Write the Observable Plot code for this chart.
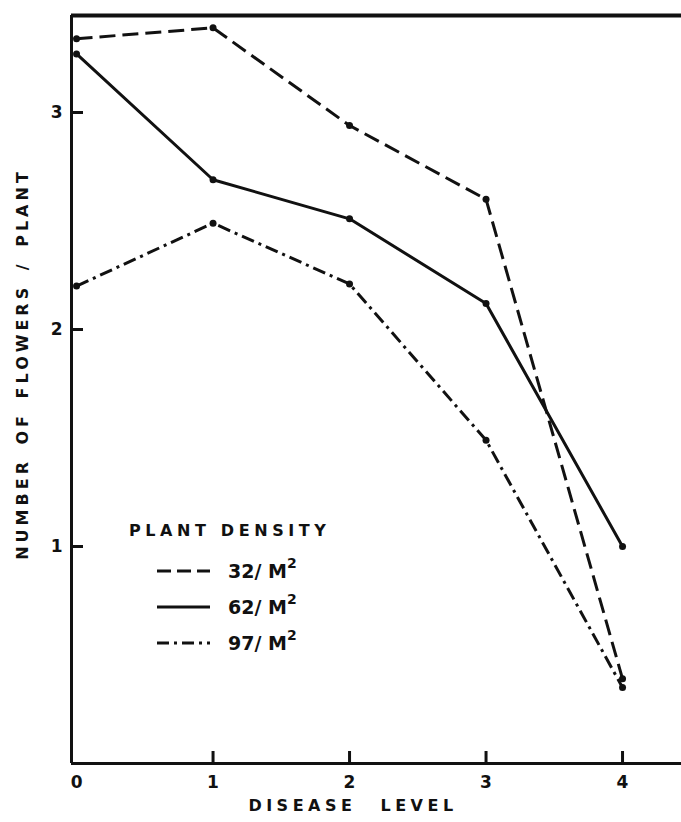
<!DOCTYPE html>
<html>
<head>
<meta charset="utf-8">
<script src="https://cdn.jsdelivr.net/npm/d3@7"></script>
<script src="https://cdn.jsdelivr.net/npm/@observablehq/plot@0.6"></script>
<style>
  html, body { margin: 0; padding: 0; background: #fff; }
  #wrap { position: relative; width: 681px; height: 822px; font-family: "DejaVu Sans", sans-serif; font-weight: bold; color: #111; }
  .ov { position: absolute; white-space: nowrap; }
  #ytitle { left: 22px; top: 364px; transform: translate(-50%, -50%) rotate(-90deg); font-size: 16px; letter-spacing: 4px; word-spacing: 4px; }
  #xtitle { left: 353px; top: 805px; transform: translate(-50%, -50%); font-size: 16px; letter-spacing: 4.5px; word-spacing: 14px; }
  #legend { left: 129px; top: 521px; }
  #legend .lt { font-size: 16px; letter-spacing: 4.6px; height: 32px; }
  #legend .row { display: flex; align-items: center; height: 35px; margin-left: 28px; font-size: 19px; }
  #legend .row.r2 { height: 37px; }
  #legend svg { margin-right: 18px; }
  sup { font-size: 14px; position: relative; top: -3px; }
</style>
</head>
<body>
<div id="wrap"></div>
<script>
// ---- data ----
const diseaseLevels = [0, 1, 2, 3, 4];
const densityLabels = ["32/ M", "62/ M", "97/ M"];
const flowers32 = [3.34, 3.39, 2.94, 2.60, 0.39];
const flowers62 = [3.27, 2.69, 2.51, 2.12, 1.00];
const flowers97 = [2.20, 2.49, 2.21, 1.49, 0.35];
const xTicks = [0, 1, 2, 3, 4];
const yTicks = [1, 2, 3];

const dashes = ["16,7", null, "13,5,3,5"];
const series = [flowers32, flowers62, flowers97];

const rows = [];
series.forEach((vals, si) => {
  diseaseLevels.forEach((lvl, i) => rows.push({ density: densityLabels[si], level: lvl, value: vals[i] }));
});

const W = 681, H = 822, mL = 71, mR = 0, mT = 15, mB = 59;
const tickLen = 12;
const xMin = -0.037, xMax = 4.432, yMax = 3.447;
const font = "DejaVu Sans, sans-serif";

const lineMarks = series.map((vals, si) =>
  Plot.line(rows.filter(r => r.density === densityLabels[si]), {
    x: "level", y: "value", stroke: "#111", strokeWidth: 3,
    strokeDasharray: dashes[si], strokeLinecap: "butt", strokeLinejoin: "round"
  })
);

const chart = Plot.plot({
  width: W,
  height: H,
  marginLeft: mL,
  marginRight: mR,
  marginTop: mT,
  marginBottom: mB,
  style: { fontFamily: font, background: "#fff" },
  x: { domain: [xMin, xMax], axis: null },
  y: { domain: [0, yMax], axis: null },
  marks: [
    Plot.ruleX([xMin], { stroke: "#111", strokeWidth: 3 }),
    Plot.ruleY([0], { stroke: "#111", strokeWidth: 3 }),
    Plot.ruleY([yMax], { stroke: "#111", strokeWidth: 4 }),
    Plot.tickX(xTicks.filter(t => t > 0), { x: d => d, stroke: "#111", strokeWidth: 3, insetTop: H - mT - mB - tickLen }),
    Plot.tickY(yTicks, { y: d => d, stroke: "#111", strokeWidth: 3, insetRight: W - mL - mR - tickLen }),
    Plot.text(xTicks, { x: d => d, text: d => String(d), frameAnchor: "bottom", lineAnchor: "middle", dy: 19, fontSize: 17, fontWeight: "bold", fill: "#111" }),
    Plot.text(yTicks, { y: d => d, text: d => String(d), frameAnchor: "left", textAnchor: "end", dx: -9, fontSize: 17, fontWeight: "bold", fill: "#111" }),
    ...lineMarks,
    Plot.dot(rows, { x: "level", y: "value", r: 3.5, fill: "#111", stroke: "none" })
  ]
});

const wrap = document.getElementById("wrap");
wrap.appendChild(chart);

function ov(id, html) {
  const d = document.createElement("div");
  d.className = "ov"; d.id = id; d.innerHTML = html;
  wrap.appendChild(d);
  return d;
}
ov("ytitle", "NUMBER OF FLOWERS / PLANT");
ov("xtitle", "DISEASE LEVEL");

let lg = `<div class="lt">PLANT DENSITY</div>`;
densityLabels.forEach((lab, i) => {
  const dash = dashes[i] ? `stroke-dasharray="${i === 0 ? '14,6' : '12,5,3,5'}"` : "";
  lg += `<div class="row${i === 1 ? ' r2' : ''}"><svg width="53" height="6"><line x1="0" y1="3" x2="53" y2="3" stroke="#111" stroke-width="3" ${dash}/></svg><span>${lab}<sup>2</sup></span></div>`;
});
ov("legend", lg);
</script>
</body>
</html>
